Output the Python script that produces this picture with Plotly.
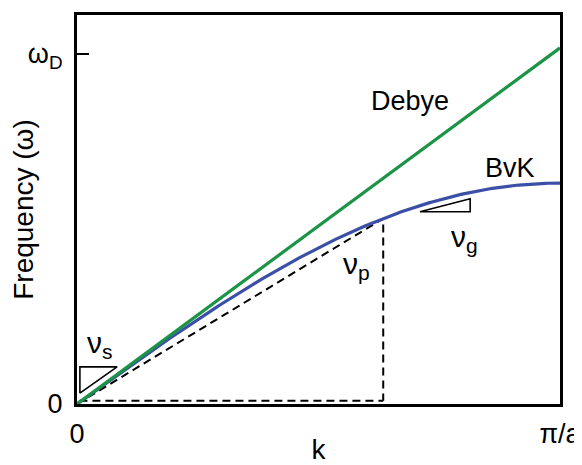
import numpy as np
import plotly.graph_objects as go

# Data (k in units of pi/a, omega in units of omega_D)
k = np.linspace(0, 1, 201)
debye_slope = 1.017          # Debye line reaches ~1.02 omega_D at pi/a
bvk_max = 0.631              # BvK maximum at zone boundary
omega_debye = debye_slope * k
omega_bvk = bvk_max * np.sin(np.pi * k / 2)

k_p = 0.634                  # point where phase velocity is shown
omega_p = bvk_max * np.sin(np.pi * k_p / 2)

x_tick_vals = [0, 1]
x_tick_text = ["0", "π/a"]
y_tick_vals = [0, 1]
y_tick_text = ["0", "ω<sub>D</sub>"]

# small slope triangles
tri_s_x = [0.006, 0.006, 0.083, 0.006]
tri_s_y = [0.031, 0.106, 0.106, 0.031]
tri_g_x = [0.710, 0.814, 0.814, 0.710]
tri_g_y = [0.549, 0.549, 0.586, 0.549]

font = "Liberation Sans, Arial, sans-serif"
fig = go.Figure()

dash_style = dict(color="black", width=2, dash="8px,5px")
# dashed construction lines
fig.add_trace(go.Scatter(x=[0, k_p, k_p], y=[0, omega_p, 0.009], mode="lines",
                         line=dash_style, hoverinfo="skip"))
fig.add_trace(go.Scatter(x=[0.005, k_p], y=[0.009, 0.009], mode="lines",
                         line=dash_style, hoverinfo="skip"))
fig.add_trace(go.Scatter(x=k, y=omega_bvk, mode="lines",
                         line=dict(color="#3b4fa6", width=3.2)))
fig.add_trace(go.Scatter(x=k, y=omega_debye, mode="lines",
                         line=dict(color="#1b9446", width=3.2)))
fig.add_trace(go.Scatter(x=tri_s_x, y=tri_s_y, mode="lines",
                         line=dict(color="black", width=1.6)))
fig.add_trace(go.Scatter(x=tri_g_x, y=tri_g_y, mode="lines",
                         line=dict(color="black", width=1.6)))

ann = [
    dict(x=0.69, y=0.866, text="Debye", size=27),
    dict(x=0.896, y=0.674, text="BvK", size=27),
    dict(x=0.578, y=0.395, text="ν<sub>p</sub>", size=30),
    dict(x=0.803, y=0.473, text="ν<sub>g</sub>", size=30),
    dict(x=0.047, y=0.17, text="ν<sub>s</sub>", size=30),
]
for a in ann:
    fig.add_annotation(x=a["x"], y=a["y"], text=a["text"], showarrow=False,
                       font=dict(family=font, size=a["size"], color="black"))

# page body has an 8px default margin, so the figure is shrunk by 8px and margins offset
fig.update_layout(
    width=574, height=457,
    margin=dict(l=69, r=22, t=7, b=61),
    paper_bgcolor="white", plot_bgcolor="white",
    showlegend=False,
    font=dict(family=font, color="black"),
)
fig.update_xaxes(range=[0, 1], showgrid=False, zeroline=False, automargin=False,
                 showline=True, linecolor="black", linewidth=3, mirror=True,
                 tickvals=x_tick_vals, ticktext=x_tick_text, ticks="",
                 tickfont=dict(size=27), ticklabelstandoff=4,
                 title=dict(text="k", font=dict(size=28), standoff=4))
fig.update_yaxes(range=[0, 1.111], showgrid=False, zeroline=False, automargin=False,
                 showline=True, linecolor="black", linewidth=3, mirror=True,
                 tickvals=y_tick_vals, ticktext=y_tick_text, ticks="inside",
                 ticklen=12, tickwidth=2, tickcolor="black",
                 tickfont=dict(size=27), ticklabelstandoff=6,
                 title=dict(text="Frequency (ω)", font=dict(size=28), standoff=6))

fig.write_html("out.html")
